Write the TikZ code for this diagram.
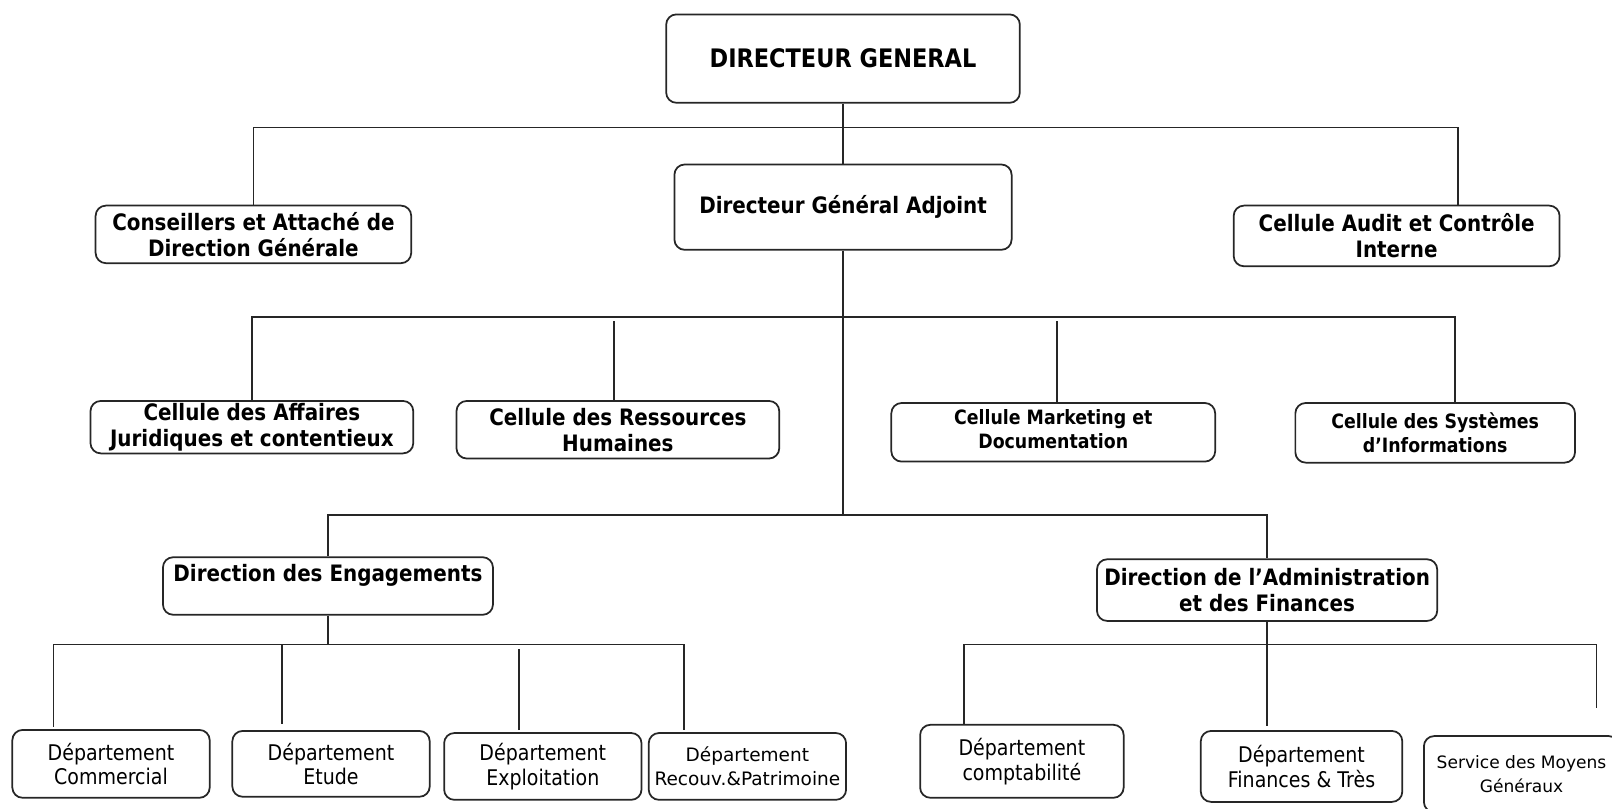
\documentclass[tikz,border=0pt]{standalone}
\usepackage{fontspec}
\setmainfont[FakeStretch=0.88]{DejaVu Sans}
\newfontfamily\widefont{DejaVu Sans}
\usetikzlibrary{calc,positioning}

\begin{document}
\begin{tikzpicture}[x=1pt,y=-1pt,
    box/.style={draw=black!85, line width=0.85pt, rounded corners=5pt, align=center, inner sep=1pt},
    headbox/.style={box, font=\bfseries\fontsize{11}{12.5}\selectfont},
    smallhead/.style={box, font=\bfseries\fontsize{9.6}{11.5}\selectfont},
    deptbox/.style={box, font=\fontsize{10.5}{12}\selectfont},
    smalldept/.style={box, font=\widefont\fontsize{8.3}{11.5}\selectfont},
    link/.style={draw=black!85, line width=0.85pt}]

    \clip (0,0) rectangle (784,393);
    \useasboundingbox (0,0) rectangle (784,393);

    % direction generale
    \node[headbox, font=\bfseries\fontsize{12.4}{14}\selectfont, minimum width=172pt, minimum height=43pt] (dg) at (410,28.5) {DIRECTEUR GENERAL};
    \node[headbox, minimum width=164pt, minimum height=41.5pt] (dga) at (410,100.75) {Directeur Général Adjoint};
    \node[headbox, minimum width=153.5pt, minimum height=28pt] (cons) at (123.25,114) {Conseillers et Attaché de\\Direction Générale};
    \node[headbox, minimum width=158.5pt, minimum height=29.5pt] (audit) at (679.25,114.75) {Cellule Audit et Contrôle\\Interne};

    % cellules
    \node[headbox, minimum width=157pt, minimum height=25.5pt] (juri) at (122.5,207.75) {Cellule des Affaires\\Juridiques et contentieux};
    \node[headbox, minimum width=157pt, minimum height=28pt] (rh) at (300.5,209) {Cellule des Ressources\\Humaines};
    \node[smallhead, minimum width=157.5pt, minimum height=28.5pt] (mkt) at (512.25,210.25) {Cellule Marketing et\\Documentation\\[-8pt]\mbox{}};
    \node[smallhead, minimum width=136pt, minimum height=29pt] (si) at (698,210.5) {Cellule des Systèmes\\d’Informations};

    % directions
    \node[headbox, minimum width=160.5pt, minimum height=28pt] (eng) at (159.5,285) {Direction des Engagements\\\mbox{}};
    \node[headbox, minimum width=165.5pt, minimum height=30pt] (adm) at (616.25,287) {Direction de l’Administration\\et des Finances};

    % departements
    \foreach \n/\x/\y/\w/\h/\t in {com/54/371.5/96/33/Commercial, etu/161/371.5/96/32/Etude,
        exp/264/372.75/96/32.5/Exploitation, cpt/497/370.25/99/35.5/comptabilité,
        fin/633/372.75/98/34.5/Finances \& Très}{
        \node[deptbox, minimum width=\w pt, minimum height=\h pt] (\n) at (\x,\y) {Département\\\t};
    }
    \node[smalldept, font=\widefont\fontsize{9}{11.5}\selectfont, minimum width=96pt, minimum height=32.5pt] (rec) at (363.5,372.75) {Département\\Recouv.\&Patrimoine};
    \node[smalldept, minimum width=95pt, minimum height=37pt] (smg) at (740,376.5) {Service des Moyens\\Généraux};

    \coordinate (b1) at (410,62);
    \coordinate (b2) at (410,154);
    \coordinate (b3) at (410,250.5);
    \coordinate (b4) at (159.5,313.5);
    \coordinate (b5) at (616.25,313.5);

    % liaisons
    \draw[link] (dg.south) -- (dga.north);
    \draw[link] (cons.north) |- (b1) -| ($(audit.north)+(29.75,0)$);
    \draw[link] (dga.south) -- (b3);
    \draw[link] (juri.north) |- (b2) -| ($(si.north)+(9.5,0)$);
    \draw[link] ($(rh.north)+(-2,0)$) -- +(0,-38.5);
    \draw[link] ($(mkt.north)+(1.75,0)$) -- +(0,-39.5);
    \draw[link] (eng.north) |- (b3) -| (adm.north);

    \draw[link] (eng.south) -- (b4);
    \draw[link] ($(com.north)+(-28,-1)$) |- (b4) -| ($(rec.north)+(-31,-1)$);
    \draw[link] ($(etu.north)+(-24,-3)$) -- +(0,-39);
    \draw[link] ($(exp.north)+(-11.5,-1)$) -- +(0,-39.5);

    \draw[link] (adm.south) -- ($(fin.north)+(-16.75,-2)$);
    \draw[link] ($(cpt.north)+(-28,0)$) |- (b5) -| ($(smg.north)+(36.5,-13)$);

\end{tikzpicture}
\end{document}
